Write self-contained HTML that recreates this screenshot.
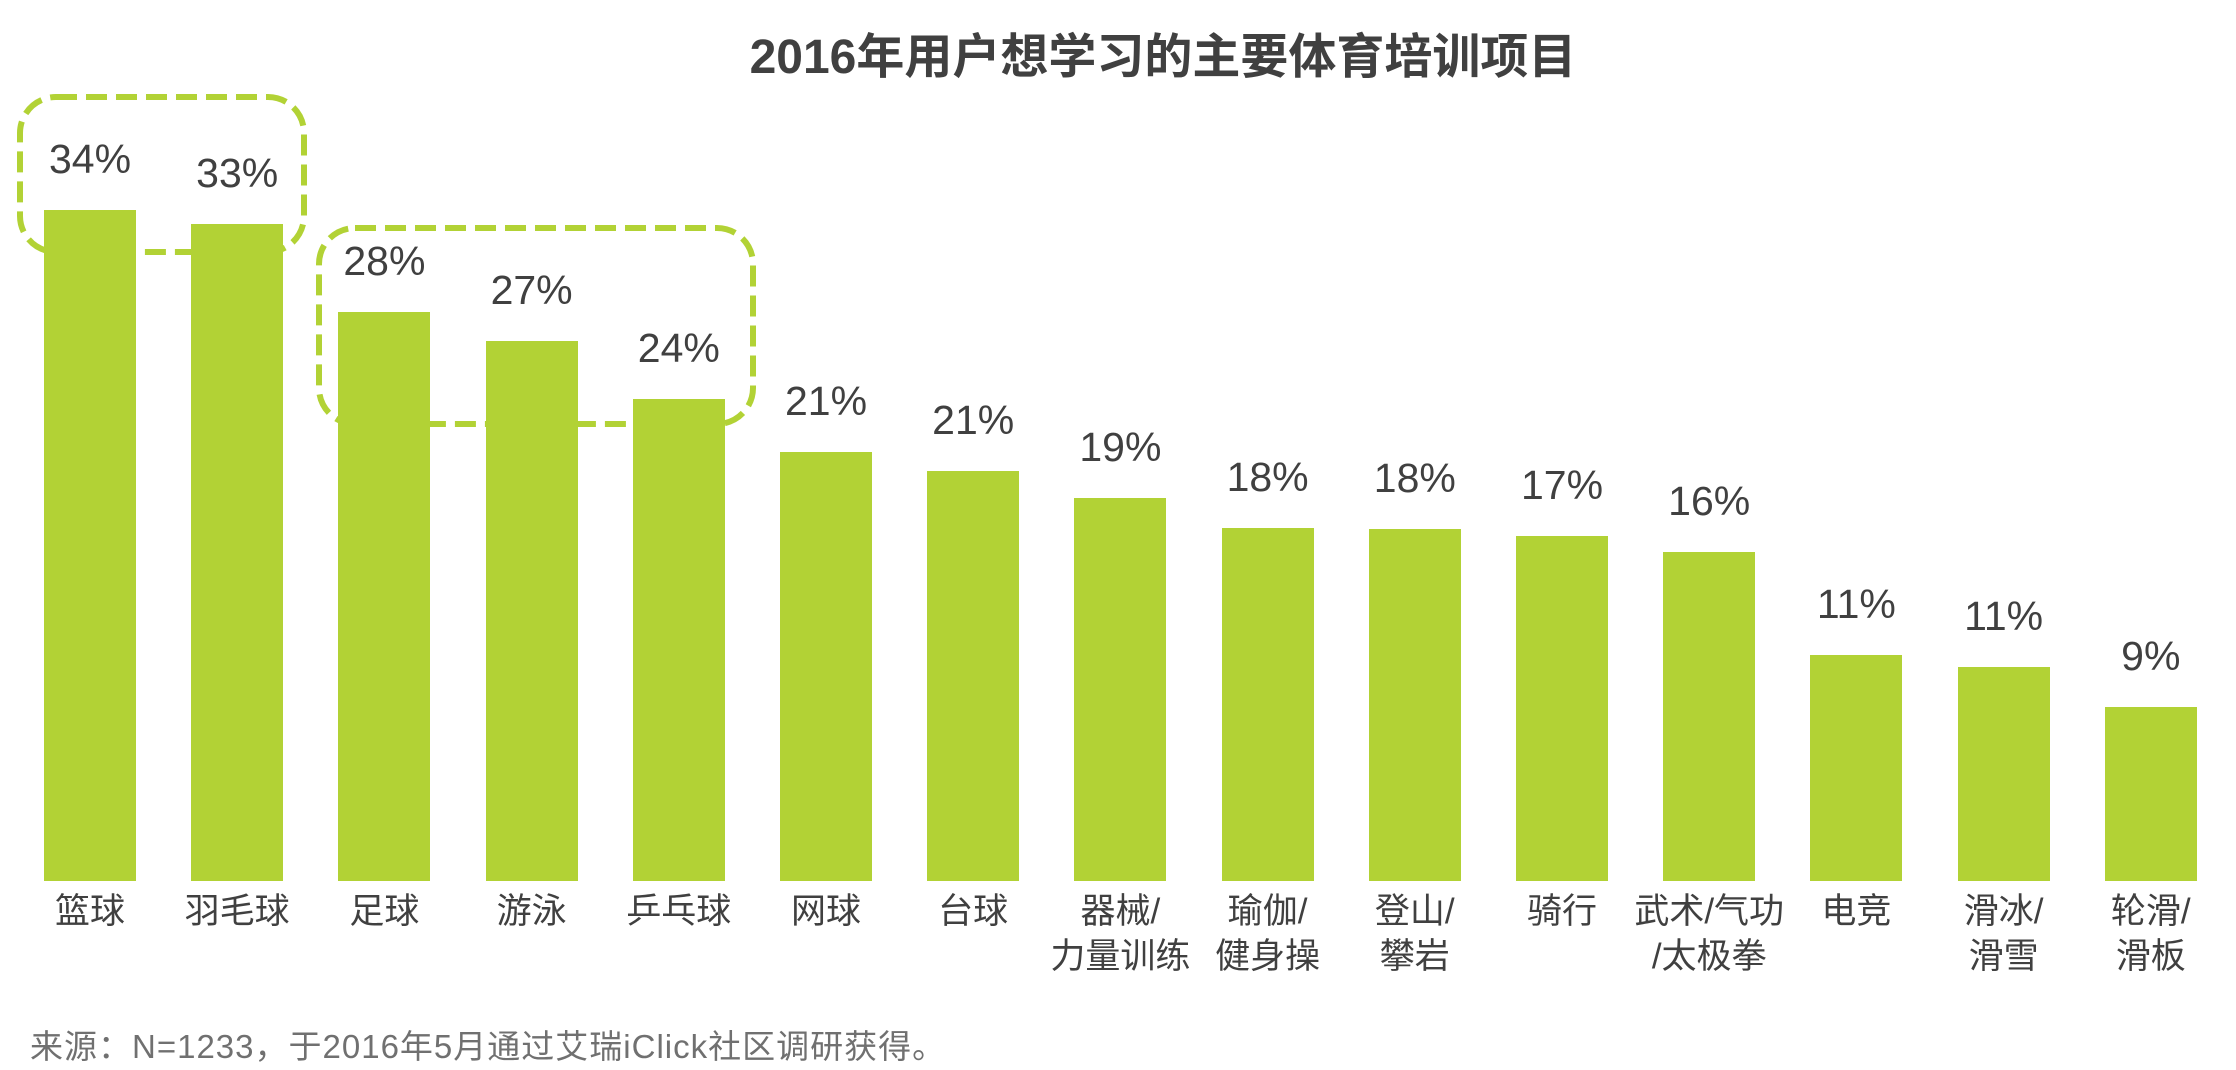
<!DOCTYPE html>
<html><head><meta charset="utf-8"><style>
body{margin:0;width:2236px;height:1070px;background:#fff;overflow:hidden;position:relative;font-family:"Liberation Sans","Noto Sans CJK SC",sans-serif;}
.t{position:absolute;left:45px;width:2236px;top:17px;text-align:center;font-size:48px;font-weight:bold;color:#404040;}
.bar{position:absolute;background:#b2d235;width:92px;}
.v{position:absolute;width:160px;text-align:center;font-size:41px;color:#404040;}
.c{position:absolute;width:220px;text-align:center;font-size:35px;line-height:45px;color:#404040;top:889px;}
.f{position:absolute;left:30px;top:1020px;font-size:33px;color:#707070;letter-spacing:1px;}
</style></head><body>
<div class="t">2016年用户想学习的主要体育培训项目</div>
<svg width="2236" height="1070" style="position:absolute;left:0;top:0">
<rect x="20" y="97" width="284" height="155" rx="36" fill="none" stroke="#b2d235" stroke-width="6" stroke-dasharray="21 9"/>
<rect x="319" y="228" width="434" height="196" rx="36" fill="none" stroke="#b2d235" stroke-width="6" stroke-dasharray="21 9"/>
</svg>
<div id="c"></div>
<script>
var tops=[210,224,312,341,399,452,471,498,528,529,536,552,655,667,707];
var vals=["34%","33%","28%","27%","24%","21%","21%","19%","18%","18%","17%","16%","11%","11%","9%"];
var cats=["篮球","羽毛球","足球","游泳","乒乓球","网球","台球","器械/<br>力量训练","瑜伽/<br>健身操","登山/<br>攀岩","骑行","武术/气功<br>/太极拳","电竞","滑冰/<br>滑雪","轮滑/<br>滑板"];
var h="";
for(var i=0;i<15;i++){var x=44+i*147.2;
h+='<div class="bar" style="left:'+x+'px;top:'+tops[i]+'px;height:'+(881-tops[i])+'px"></div>';
h+='<div class="v" style="left:'+(x-34)+'px;top:'+(tops[i]-74)+'px">'+vals[i]+'</div>';
h+='<div class="c" style="left:'+(x-64)+'px">'+cats[i]+'</div>';}
document.getElementById("c").innerHTML=h;
</script>
<div class="f">来源：N=1233，于2016年5月通过艾瑞iClick社区调研获得。</div>
</body></html>
